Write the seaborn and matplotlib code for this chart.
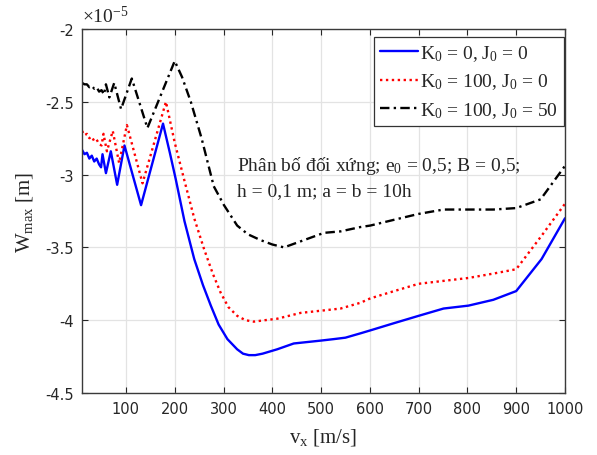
import matplotlib
matplotlib.use("Agg")
import matplotlib.pyplot as plt
import seaborn as sns
import pandas as pd

# Maximum deflection W_max (in units of 1e-5 m) versus velocity v_x (m/s)
vx_k0_j0 = [10, 15, 20, 25, 30, 35, 40, 45, 49, 52, 59, 69, 82, 97, 131, 176,
            190, 202, 220, 240, 258, 274, 290, 308, 328, 340, 352, 365, 380,
            410, 444, 472, 500, 526, 550, 581, 601, 650, 700, 751, 802, 853,
            900, 952, 1000]
w_k0_j0 = [-2.83, -2.86, -2.85, -2.89, -2.87, -2.91, -2.89, -2.93, -2.95, -2.86,
           -2.99, -2.84, -3.07, -2.80, -3.21, -2.65, -2.85, -3.03, -3.32, -3.58,
           -3.76, -3.90, -4.03, -4.13, -4.20, -4.23, -4.24, -4.24, -4.23, -4.20,
           -4.16, -4.15, -4.14, -4.13, -4.12, -4.09, -4.07, -4.02, -3.97, -3.92,
           -3.90, -3.86, -3.80, -3.58, -3.30]

vx_k100_j0 = [10, 15, 20, 25, 30, 35, 40, 45, 50, 54, 61, 73, 86, 102, 134, 182,
              200, 219, 240, 260, 278, 294, 310, 328, 345, 362, 385, 410, 458,
              513, 540, 581, 601, 650, 700, 751, 802, 853, 900, 952, 1000]
w_k100_j0 = [-2.70, -2.73, -2.72, -2.75, -2.74, -2.77, -2.76, -2.79, -2.80, -2.72,
             -2.84, -2.70, -2.92, -2.66, -3.06, -2.50, -2.78, -3.03, -3.30, -3.51,
             -3.68, -3.81, -3.91, -3.97, -4.00, -4.01, -4.00, -3.99, -3.95, -3.93,
             -3.92, -3.88, -3.85, -3.80, -3.75, -3.73, -3.71, -3.68, -3.65, -3.42,
             -3.20]

vx_k100_j50 = [10, 15, 20, 25, 30, 35, 40, 45, 50, 55, 59, 66, 76, 90, 112, 144,
               200, 215, 233, 255, 280, 301, 328, 350, 376, 400, 424, 465, 506,
               540, 581, 601, 650, 700, 751, 802, 853, 900, 950, 1000]
w_k100_j50 = [-2.37, -2.38, -2.38, -2.40, -2.39, -2.41, -2.40, -2.43, -2.42, -2.45,
              -2.38, -2.47, -2.37, -2.55, -2.34, -2.68, -2.22, -2.33, -2.50, -2.75,
              -3.08, -3.21, -3.35, -3.41, -3.45, -3.48, -3.50, -3.45, -3.40, -3.39,
              -3.36, -3.35, -3.31, -3.27, -3.24, -3.24, -3.24, -3.23, -3.17, -2.94]

series_labels = [r"K$_0$ = 0, J$_0$ = 0",
                 r"K$_0$ = 100, J$_0$ = 0",
                 r"K$_0$ = 100, J$_0$ = 50"]

x_ticks = [100, 200, 300, 400, 500, 600, 700, 800, 900, 1000]
y_ticks = [-4.5, -4.0, -3.5, -3.0, -2.5, -2.0]
y_tick_labels = ["-4.5", "-4", "-3.5", "-3", "-2.5", "-2"]

sns.set_style("white")
plt.rcParams["font.family"] = ["Liberation Serif", "DejaVu Serif"]
plt.rcParams["mathtext.fontset"] = "custom"
plt.rcParams["mathtext.rm"] = "Liberation Serif"
plt.rcParams["mathtext.it"] = "Liberation Serif:italic"
plt.rcParams["axes.unicode_minus"] = False

fig = plt.figure(figsize=(5.97, 4.56), dpi=100)
ax = fig.add_axes([0.1374, 0.1360, 0.8090, 0.7982])

frames = [
    (vx_k0_j0, w_k0_j0, series_labels[0], "#0000ff", "-"),
    (vx_k100_j0, w_k100_j0, series_labels[1], "#ff0000", (0, (1, 1.5))),
    (vx_k100_j50, w_k100_j50, series_labels[2], "#000000", (0, (4, 1.8, 1, 1.8))),
]
for xs, ys, lab, col, ls in frames:
    df = pd.DataFrame({"vx": xs, "w": ys})
    sns.lineplot(data=df, x="vx", y="w", ax=ax, color=col, linestyle=ls,
                 linewidth=1.7, label=lab, estimator=None, sort=False)

ax.set_xlim(10, 1000)
ax.set_ylim(-4.5, -2.0)
ax.set_xticks(x_ticks)
ax.set_yticks(y_ticks)
ax.set_yticklabels(y_tick_labels)
for lbl in ax.get_xticklabels() + ax.get_yticklabels():
    lbl.set_fontfamily("DejaVu Sans")
    lbl.set_fontsize(10.5)
    lbl.set_color("#262626")

ax.tick_params(direction="in", length=4, width=0.8, color="#262626",
               bottom=True, left=True, top=True, right=True, pad=6)
ax.grid(True, color="#e3e3e3", linewidth=0.9)
for sp in ax.spines.values():
    sp.set_color("#3a3a3a")
    sp.set_linewidth(1.0)

ax.set_xlabel(r"v$_\mathrm{x}$ [m/s]", fontsize=15, labelpad=7)
ax.set_ylabel(r"W$_\mathrm{max}$ [m]", fontsize=15, labelpad=7)

ax.text(0.0, 1.008, r"$\times$10$^{-5}$", transform=ax.transAxes,
        fontsize=14, color="#262626", ha="left", va="bottom")

ax.text(0.320, 0.595, "Phân bố đối xứng; e$_0$ = 0,5; B = 0,5;\nh = 0,1 m; a = b = 10h",
        transform=ax.transAxes, fontsize=14, ha="left", va="center",
        linespacing=1.5)

leg = ax.legend(loc="upper right", bbox_to_anchor=(0.998, 0.978),
                fontsize=14, frameon=True, fancybox=False,
                edgecolor="#333333", framealpha=1.0, handlelength=2.0,
                handletextpad=0.1, borderpad=0.3, labelspacing=0.45,
                borderaxespad=0.0)
leg.get_frame().set_linewidth(0.9)

fig.savefig("out.png", dpi=100)
